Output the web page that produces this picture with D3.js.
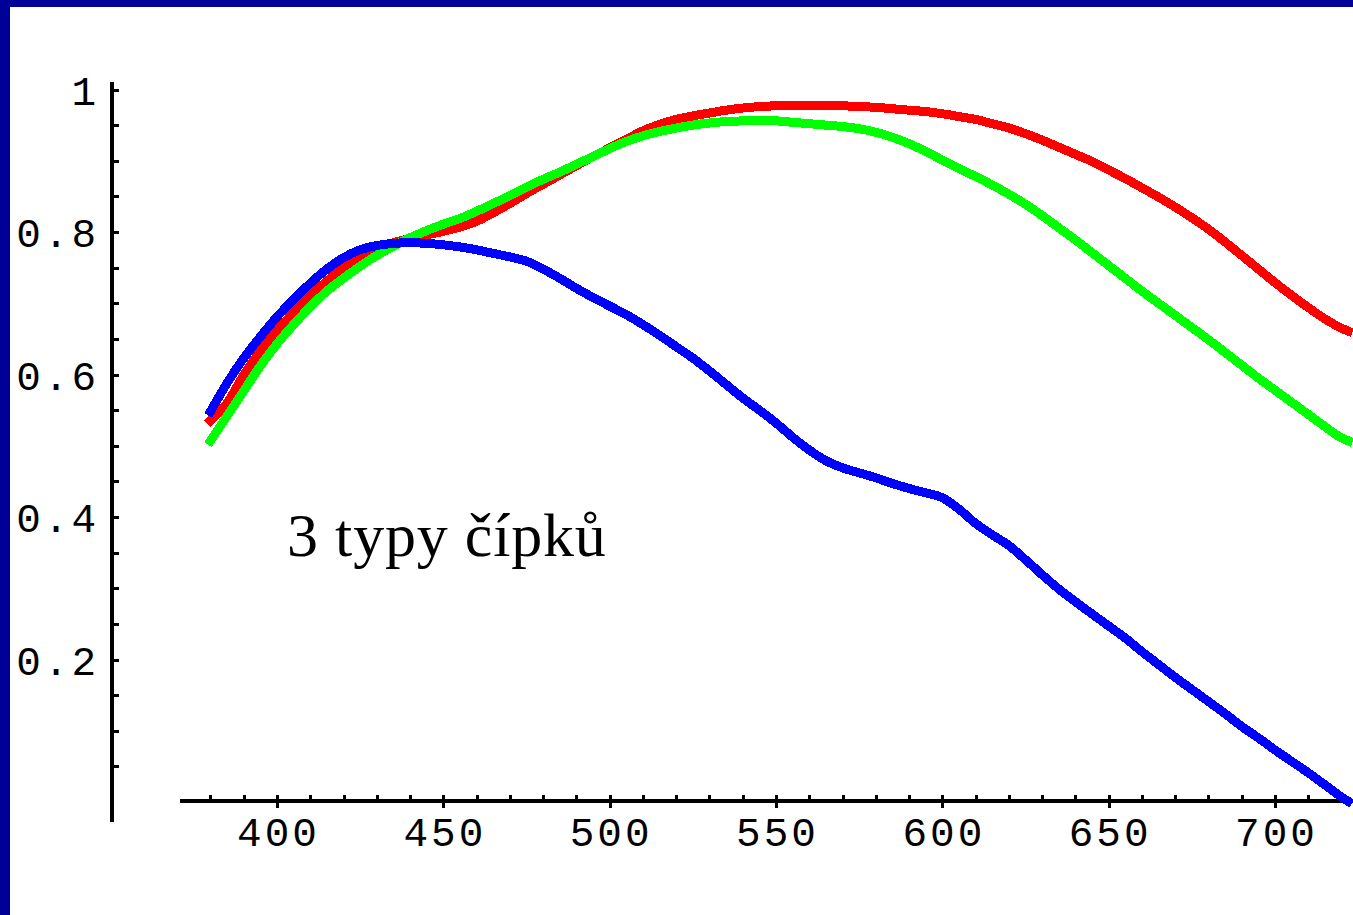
<!DOCTYPE html>
<html>
<head>
<meta charset="utf-8">
<script src="https://cdn.jsdelivr.net/npm/d3@7"></script>
<style>
  html, body { margin: 0; padding: 0; background: #fff; }
  svg { display: block; }
</style>
</head>
<body>
<svg id="chart" width="1353" height="915"></svg>
<script>
// ---- data ----
const wavelengths = [380,385,390,395,400,405,410,415,420,425,430,435,440,445,450,455,460,465,470,475,480,485,490,495,500,505,510,515,520,525,530,535,540,545,550,555,560,565,570,575,580,585,590,595,600,605,610,615,620,625,630,635,640,645,650,655,660,665,670,675,680,685,690,695,700,705,710,715,720,722];

const redCone = [0.535,0.560,0.599,0.633,0.662,0.687,0.711,0.731,0.750,0.764,0.776,0.785,0.791,0.796,0.801,0.807,0.815,0.827,0.840,0.854,0.867,0.880,0.893,0.906,0.918,0.930,0.942,0.951,0.958,0.963,0.967,0.971,0.974,0.976,0.977,0.977,0.977,0.977,0.977,0.976,0.975,0.973,0.971,0.969,0.966,0.962,0.958,0.952,0.946,0.938,0.929,0.919,0.909,0.899,0.887,0.875,0.862,0.849,0.835,0.820,0.804,0.786,0.767,0.748,0.729,0.711,0.694,0.678,0.665,0.661];

const greenCone = [0.507,0.542,0.577,0.612,0.643,0.670,0.695,0.717,0.735,0.752,0.767,0.780,0.792,0.802,0.811,0.819,0.829,0.840,0.851,0.863,0.874,0.884,0.895,0.906,0.917,0.927,0.935,0.941,0.946,0.950,0.953,0.955,0.956,0.957,0.956,0.954,0.952,0.950,0.948,0.945,0.940,0.933,0.924,0.913,0.901,0.889,0.878,0.866,0.853,0.839,0.823,0.806,0.789,0.771,0.753,0.735,0.717,0.700,0.683,0.666,0.649,0.631,0.613,0.595,0.578,0.561,0.544,0.527,0.511,0.507];

const blueCone = [0.548,0.588,0.623,0.653,0.681,0.705,0.728,0.748,0.764,0.775,0.781,0.784,0.785,0.784,0.782,0.779,0.775,0.770,0.765,0.759,0.748,0.735,0.721,0.708,0.696,0.684,0.670,0.655,0.639,0.623,0.605,0.586,0.567,0.550,0.532,0.512,0.494,0.479,0.469,0.462,0.455,0.447,0.440,0.434,0.427,0.411,0.391,0.375,0.360,0.340,0.319,0.299,0.281,0.264,0.247,0.230,0.211,0.193,0.175,0.158,0.141,0.124,0.106,0.090,0.073,0.057,0.041,0.024,0.007,0.001];

const xTickValues = [380,390,400,410,420,430,440,450,460,470,480,490,500,510,520,530,540,550,560,570,580,590,600,610,620,630,640,650,660,670,680,690,700,710,720];
const xTickLabels = ["400","450","500","550","600","650","700"];
const yTickValues = [0.05,0.1,0.15,0.2,0.25,0.3,0.35,0.4,0.45,0.5,0.55,0.6,0.65,0.7,0.75,0.8,0.85,0.9,0.95,1.0];
const yTickLabels = ["0.2","0.4","0.6","0.8","1"];
const annotation = "3 typy čípků";

// ---- drawing ----
const svg = d3.select("#chart");
const W = 1353, H = 915;

const x = d3.scaleLinear().domain([400, 700]).range([277, 1275]);
const y = d3.scaleLinear().domain([0, 1]).range([802, 89.5]);

// frame
svg.append("rect").attr("x", 0).attr("y", 0).attr("width", W).attr("height", 7).attr("fill", "#000099");
svg.append("rect").attr("x", 0).attr("y", 0).attr("width", 10).attr("height", H).attr("fill", "#000099");

const axisG = svg.append("g").attr("shape-rendering", "crispEdges");

// y axis line
axisG.append("rect").attr("x", 110).attr("y", 82).attr("width", 4).attr("height", 740).attr("fill", "#000");
// y ticks
axisG.selectAll("rect.yt").data(yTickValues).join("rect")
  .attr("class", "yt")
  .attr("x", 114).attr("width", 5)
  .attr("y", d => Math.round(y(d)) - 1.5).attr("height", 3)
  .attr("fill", "#000");

// x axis line
axisG.append("rect").attr("x", 180).attr("y", 799).attr("width", 1170).attr("height", 4).attr("fill", "#000");
// x ticks
const majorX = xTickLabels.map(Number);
axisG.selectAll("rect.xt").data(xTickValues).join("rect")
  .attr("class", "xt")
  .attr("x", d => Math.round(x(d)) - 1.5).attr("width", 3.5)
  .attr("y", 795)
  .attr("height", d => majorX.includes(d) ? 13 : 4)
  .attr("fill", "#000");

// tick labels
const ls = 3;
const labelFont = "'Liberation Mono', 'DejaVu Sans Mono', monospace";
svg.selectAll("text.xl").data(xTickLabels).join("text")
  .attr("class", "xl")
  .attr("x", d => x(+d) + ls / 2)
  .attr("y", 846)
  .attr("text-anchor", "middle")
  .attr("font-family", labelFont)
  .attr("font-size", 41)
  .attr("letter-spacing", ls)
  .attr("fill", "#000")
  .text(d => d);

svg.selectAll("text.yl").data(yTickLabels).join("text")
  .attr("class", "yl")
  .attr("x", 96 + ls)
  .attr("y", d => y(+d) + 15)
  .attr("text-anchor", "end")
  .attr("font-family", labelFont)
  .attr("font-size", 41)
  .attr("letter-spacing", ls)
  .attr("fill", "#000")
  .text(d => d);

// curves
const series = [
  { name: "red", values: redCone, color: "#ff0000" },
  { name: "green", values: greenCone, color: "#00ff00" },
  { name: "blue", values: blueCone, color: "#0000ff" }
];
const line = d3.line()
  .x(d => x(d[0]))
  .y(d => y(d[1]))
  .curve(d3.curveMonotoneX);

svg.selectAll("path.cone").data(series).join("path")
  .attr("class", "cone")
  .attr("d", s => line(wavelengths.map((w, i) => [w, s.values[i]])))
  .attr("fill", "none")
  .attr("stroke", s => s.color)
  .attr("stroke-width", 9)
  .attr("stroke-linecap", "square")
  .attr("shape-rendering", "crispEdges");

// annotation
svg.append("text")
  .attr("x", 287)
  .attr("y", 556)
  .attr("font-family", "'Liberation Serif', 'Times New Roman', serif")
  .attr("font-size", 62)
  .attr("letter-spacing", 0.8)
  .attr("fill", "#000")
  .text(annotation);
</script>
</body>
</html>
